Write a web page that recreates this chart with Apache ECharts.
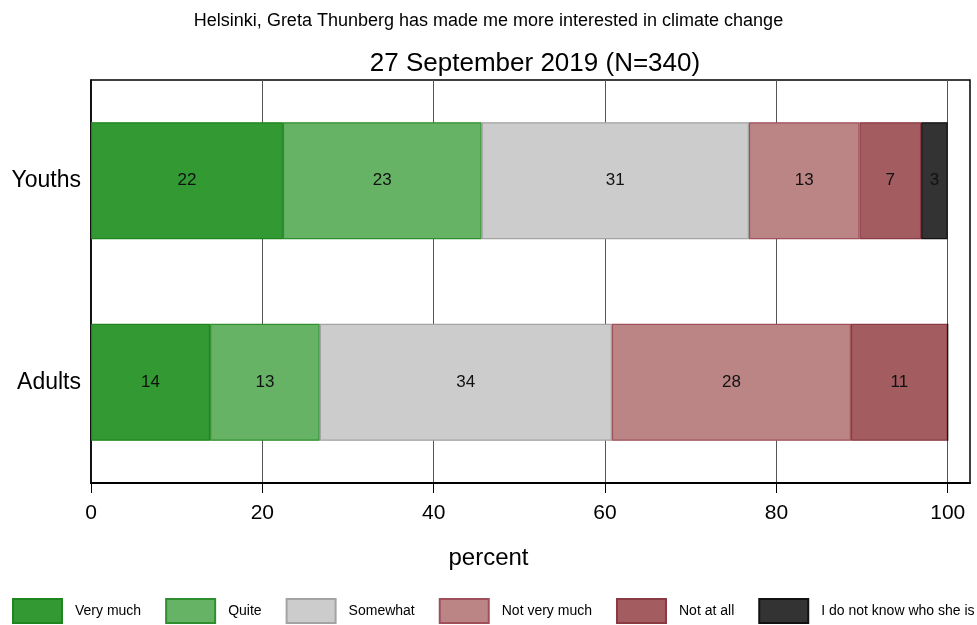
<!DOCTYPE html>
<html>
<head>
<meta charset="utf-8">
<script src="https://cdn.jsdelivr.net/npm/echarts@6/dist/echarts.min.js"></script>
<style>html,body{margin:0;padding:0;background:#fff}#c{width:977px;height:625px}</style>
</head>
<body>
<div id="c"></div>
<script>
const categories = ['Youths', 'Adults'];
const seriesNames = ['Very much', 'Quite', 'Somewhat', 'Not very much', 'Not at all', 'I do not know who she is'];
const veryMuch = [22.4, 13.9];
const quite = [23.2, 12.8];
const somewhat = [31.2, 34.1];
const notVeryMuch = [12.9, 27.9];
const notAtAll = [7.2, 11.3];
const dontKnow = [3.1, 0];
const xTicks = [0, 20, 40, 60, 80, 100];

const values = [veryMuch, quite, somewhat, notVeryMuch, notAtAll, dontKnow];
const fills = ['#339933', '#66b366', '#cccccc', '#bb8586', '#a35c60', '#333333'];
const borders = ['#1f861f', '#2f8f2f', '#a3a3a3', '#a0505a', '#8a3a42', '#111111'];
const FONT = '"Liberation Sans", Arial, sans-serif';

const chart = echarts.init(document.getElementById('c'));
chart.setOption({
  animation: false,
  textStyle: { fontFamily: FONT },
  title: [
    { text: 'Helsinki, Greta Thunberg has made me more interested in climate change',
      left: 'center', top: 7, textStyle: { fontSize: 18, fontWeight: 'normal', color: '#000', fontFamily: FONT } },
    { text: '27 September 2019 (N=340)', left: 530, textAlign: 'center', top: 46,
      textStyle: { fontSize: 26, fontWeight: 'normal', color: '#000', fontFamily: FONT } }
  ],
  legend: {
    left: 12, top: 598, padding: 0,
    itemWidth: 49, itemHeight: 24, itemGap: 24,
    icon: 'rect',
    textStyle: { fontSize: 14, color: '#000', padding: [0, 0, 0, 8], fontFamily: FONT },
    data: seriesNames
  },
  grid: { left: 91, right: 7, top: 80, bottom: 142, show: true, borderColor: '#000', borderWidth: 1.5, containLabel: false },
  xAxis: {
    type: 'value', min: 0, max: 102.6, interval: 20,
    name: 'percent', nameLocation: 'middle', nameGap: 63,
    nameTextStyle: { fontSize: 24, color: '#000', padding: [0, 84, 0, 0], fontFamily: FONT },
    axisLine: { show: true, lineStyle: { color: '#000', width: 2 } },
    axisTick: { show: true, length: 10, customValues: xTicks, lineStyle: { color: '#000', width: 1 } },
    axisLabel: { customValues: xTicks, fontSize: 21, color: '#000', margin: 20, fontFamily: FONT },
    splitLine: { show: true, lineStyle: { color: '#555', width: 1 } }
  },
  yAxis: {
    type: 'category', data: categories, inverse: true,
    axisLine: { show: true, lineStyle: { color: '#000', width: 1.5 } },
    axisTick: { show: false },
    axisLabel: { fontSize: 23, color: '#000', margin: 10, fontFamily: FONT },
    splitLine: { show: false }
  },
  series: seriesNames.map((name, i) => ({
    name: name, type: 'bar', stack: 'total', barWidth: 117,
    data: values[i],
    itemStyle: { color: fills[i], borderColor: borders[i], borderWidth: 1.2 },
    label: {
      show: true, position: 'inside', fontSize: 17, color: '#111', fontFamily: FONT,
      formatter: p => p.value > 0 ? String(Math.round(p.value)) : ''
    }
  }))
});
</script>
</body>
</html>
